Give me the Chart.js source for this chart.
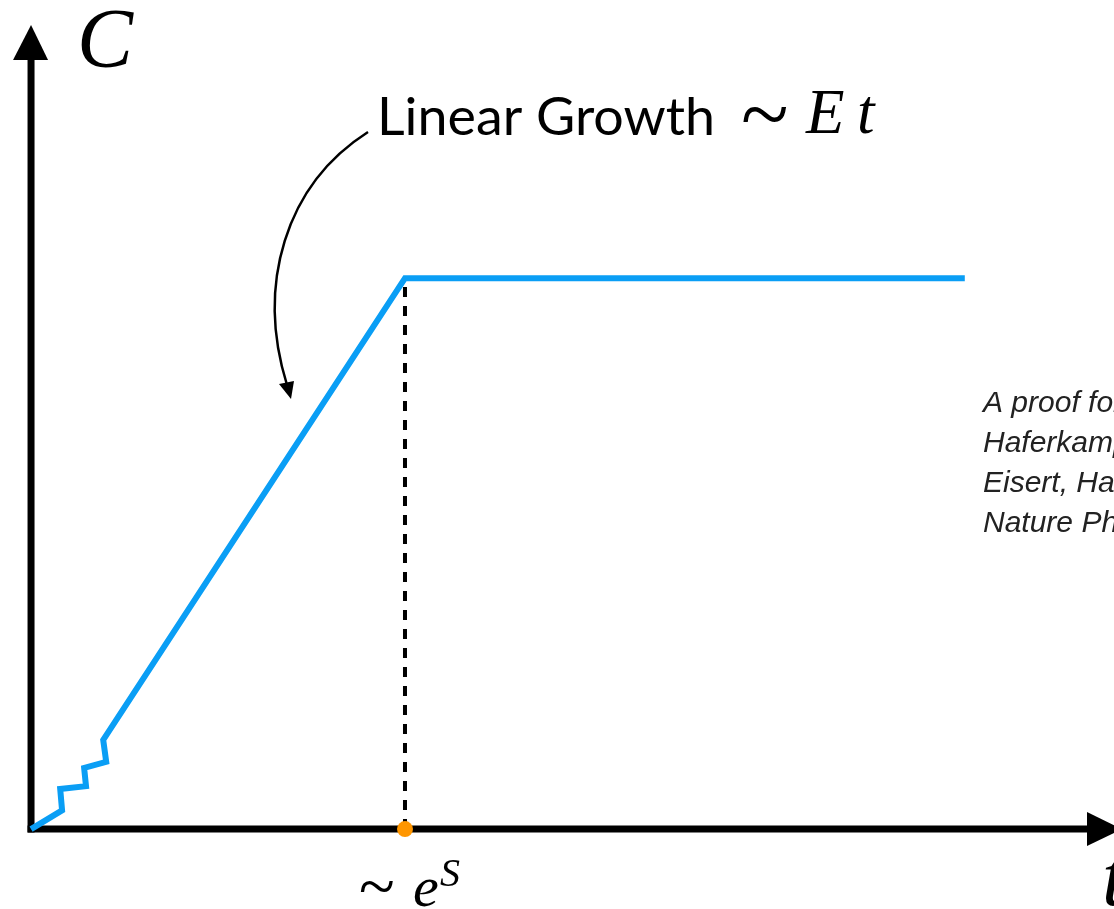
<!DOCTYPE html>
<html>
<head>
<meta charset="utf-8">
<script src="https://cdn.jsdelivr.net/npm/chart.js@4"></script>
<style>
  html, body { margin: 0; padding: 0; background: #fff; overflow: hidden; }
  canvas { display: block; }
</style>
</head>
<body>
<canvas id="complexityChart" width="1114" height="909"></canvas>
<script>
// complexity C(t): small zigzag start, linear growth, then plateau
const times = [0, 0.083, 0.078, 0.147, 0.142, 0.201, 0.193, 1.0, 2.497];
const complexity = [0, 0.034, 0.073, 0.078, 0.111, 0.122, 0.162, 1.0, 1.0];

// saturation point, t ~ e^S
const saturationTime = 1.0;
const saturationC = 1.0;

// visible window of the plot
const tRange = [-0.083, 2.896];
const cRange = [-0.145, 1.505];

const yLabel = 'C';
const xLabel = 't';
const growthLabel = 'Linear Growth';
const refLines = [
    'A proof for random quantum circuits:',
    'Haferkamp, Faist, Kothakonda,',
    'Eisert, Halpern,',
    'Nature Physics 18, 528 (2022)'
];

const BLUE = '#0a9ef5';
const ORANGE = '#ff9600';
const SERIF = '"Liberation Serif", "DejaVu Serif", serif';

const sketchPlugin = {
    id: 'sketch',
    beforeDatasetsDraw(chart) {
        const ctx = chart.ctx;
        const xs = chart.scales.x, ys = chart.scales.y;
        const area = chart.chartArea;
        const ox = xs.getPixelForValue(0), oy = ys.getPixelForValue(0);
        ctx.save();
        ctx.strokeStyle = '#000';
        ctx.fillStyle = '#000';
        ctx.lineWidth = 7;
        // vertical axis
        ctx.beginPath();
        ctx.moveTo(ox, oy + 3.5);
        ctx.lineTo(ox, area.top + 58);
        ctx.stroke();
        ctx.beginPath();
        ctx.moveTo(ox, area.top + 25);
        ctx.lineTo(ox - 18, area.top + 60);
        ctx.lineTo(ox + 17, area.top + 60);
        ctx.closePath();
        ctx.fill();
        // horizontal axis
        ctx.beginPath();
        ctx.moveTo(ox - 3.5, oy);
        ctx.lineTo(area.right - 25, oy);
        ctx.stroke();
        ctx.beginPath();
        ctx.moveTo(area.right + 8, oy);
        ctx.lineTo(area.right - 27, oy - 17);
        ctx.lineTo(area.right - 27, oy + 17);
        ctx.closePath();
        ctx.fill();
        ctx.restore();
    },
    afterDraw(chart) {
        const ctx = chart.ctx;
        const xs = chart.scales.x, ys = chart.scales.y;
        const area = chart.chartArea;
        const ox = xs.getPixelForValue(0), oy = ys.getPixelForValue(0);
        const sx = xs.getPixelForValue(saturationTime);
        ctx.save();
        ctx.fillStyle = '#000';
        ctx.textBaseline = 'alphabetic';

        // axis labels
        ctx.font = 'italic 84px ' + SERIF;
        ctx.fillText(yLabel, ox + 46, 67);
        ctx.fillText(xLabel, area.right - 12, oy + 76);

        // "Linear Growth ~ E t"
        ctx.font = '52px Lato';
        const w = ctx.measureText(growthLabel).width;
        ctx.save();
        ctx.translate(377, 135);
        ctx.scale(338 / w, 1);
        ctx.fillText(growthLabel, 0, 0);
        ctx.restore();
        ctx.font = '88px "Liberation Serif", serif';
        ctx.fillText('~', 741, 144);
        ctx.font = 'italic 63px ' + SERIF;
        ctx.fillText('E', 806, 133);
        ctx.fillText('t', 857, 133);

        // "~ e^S" under the saturation point
        ctx.font = '66px "Liberation Serif", serif';
        ctx.fillText('~', sx - 46, oy + 79);
        ctx.font = 'italic 58px ' + SERIF;
        ctx.fillText('e', sx + 8, oy + 77);
        ctx.font = 'italic 40px ' + SERIF;
        ctx.fillText('S', sx + 35, oy + 57);

        // curved arrow pointing at the linear part
        ctx.strokeStyle = '#000';
        ctx.lineWidth = 2.5;
        ctx.beginPath();
        ctx.moveTo(368, 132);
        ctx.bezierCurveTo(285, 185, 256, 285, 287, 385);
        ctx.stroke();
        ctx.beginPath();
        ctx.moveTo(291, 399);
        ctx.lineTo(279, 384);
        ctx.lineTo(294, 381);
        ctx.closePath();
        ctx.fill();

        // reference note, runs off the right edge
        ctx.fillStyle = '#222';
        ctx.font = 'italic 30px "Liberation Sans", Arial, sans-serif';
        refLines.forEach(function(line, i) {
            ctx.fillText(line, 983, 412 + i * 40);
        });
        ctx.restore();
    }
};

const ctx = document.getElementById('complexityChart').getContext('2d');
const chart = new Chart(ctx, {
    type: 'scatter',
    data: {
        datasets: [
            {
                label: 'C(t)',
                data: times.map((t, i) => ({ x: t, y: complexity[i] })),
                showLine: true,
                borderColor: BLUE,
                borderWidth: 6,
                borderJoinStyle: 'miter',
                tension: 0,
                pointRadius: 0,
                order: 1
            },
            {
                label: 'saturation',
                data: [{ x: saturationTime, y: 0 }, { x: saturationTime, y: saturationC }],
                showLine: true,
                borderColor: '#000',
                borderWidth: 4,
                borderDash: [10, 9],
                pointRadius: 0,
                order: 2
            },
            {
                label: 'e^S',
                data: [{ x: saturationTime, y: 0 }],
                pointRadius: 8,
                pointBackgroundColor: ORANGE,
                pointBorderWidth: 0,
                order: 0
            }
        ]
    },
    options: {
        responsive: false,
        animation: false,
        devicePixelRatio: 1,
        layout: { padding: 0, autoPadding: false },
        plugins: {
            legend: { display: false },
            tooltip: { enabled: false }
        },
        scales: {
            x: { type: 'linear', display: false, min: tRange[0], max: tRange[1] },
            y: { type: 'linear', display: false, min: cRange[0], max: cRange[1] }
        }
    },
    plugins: [sketchPlugin]
});
</script>
</body>
</html>
